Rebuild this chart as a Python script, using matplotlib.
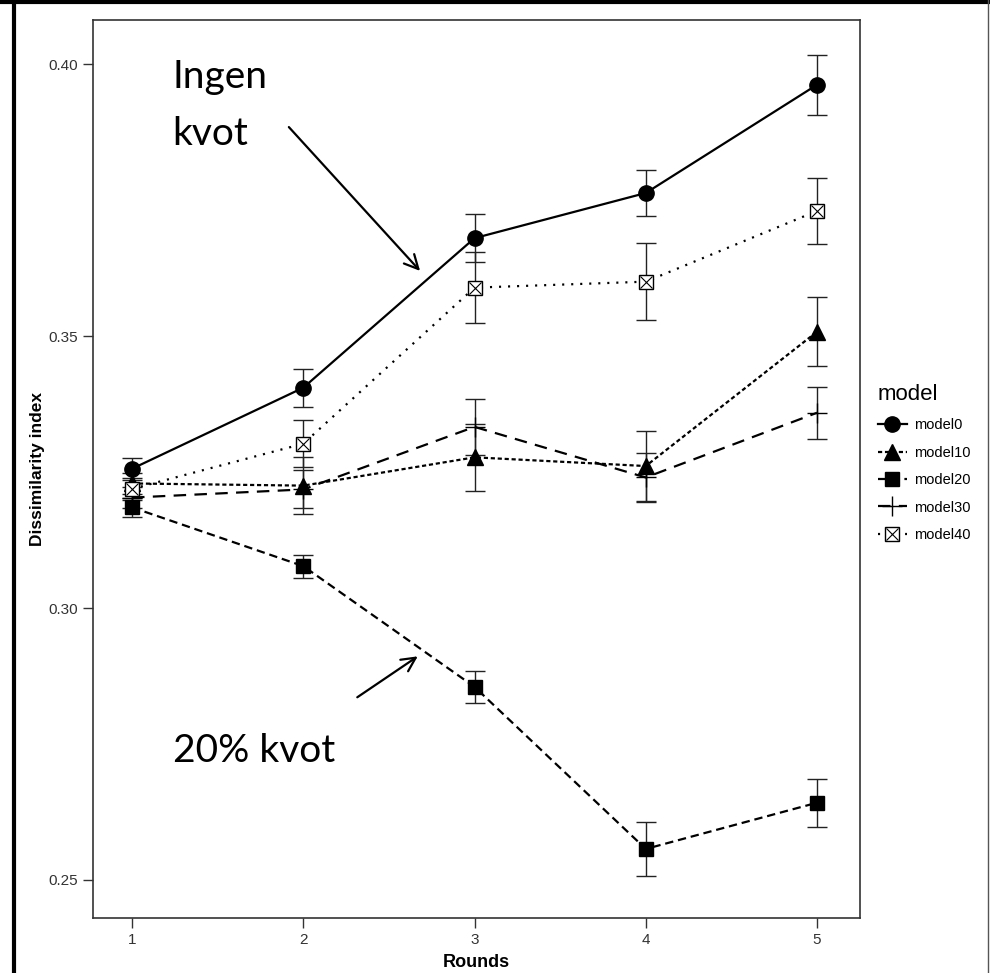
import matplotlib.pyplot as plt
from matplotlib.lines import Line2D
plt.rcParams['font.family'] = ['Liberation Sans', 'DejaVu Sans']
plt.rcParams['lines.scale_dashes'] = False

# means and error bars
rounds = [1, 2, 3, 4, 5]
model0 = [0.3256, 0.3405, 0.3680, 0.3763, 0.3962]
model0_err = [0.0020, 0.0035, 0.0044, 0.0042, 0.0055]
model10 = [0.3229, 0.3225, 0.3277, 0.3261, 0.3508]
model10_err = [0.0020, 0.0052, 0.0062, 0.0064, 0.0063]
model20 = [0.3185, 0.3077, 0.2855, 0.2557, 0.2642]
model20_err = [0.0017, 0.0021, 0.0030, 0.0049, 0.0044]
model30 = [0.3203, 0.3218, 0.3333, 0.3240, 0.3359]
model30_err = [0.0020, 0.0035, 0.0051, 0.0045, 0.0048]
model40 = [0.3219, 0.3302, 0.3589, 0.3600, 0.3730]
model40_err = [0.0020, 0.0043, 0.0065, 0.0071, 0.0060]

series = [
    ('model0', model0, model0_err, dict(ls='-', marker='o', ms=11, mfc='black')),
    ('model10', model10, model10_err, dict(dashes=(3, 2), marker='^', ms=11, mfc='black')),
    ('model20', model20, model20_err, dict(dashes=(6, 3.5), marker='s', ms=10, mfc='black')),
    ('model30', model30, model30_err, dict(dashes=(9, 6), marker='+', ms=15, mew=1.0)),
    ('model40', model40, model40_err, dict(dashes=(1.5, 5), marker='s', ms=10, mfc='white', mew=1.0)),
]

fig = plt.figure(figsize=(9.9, 9.73), dpi=100)
ax = fig.add_axes([0.0939, 0.0565, 0.7748, 0.9229])

handles = []
for name, vals, err, style in series:
    ax.errorbar(rounds, vals, yerr=err, fmt='none', ecolor='#222222', elinewidth=1.0,
                capsize=7, capthick=1.0, zorder=2)
    ln, = ax.plot(rounds, vals, color='black', lw=1.6, mec='black', zorder=3, **style)
    h = ln
    if name == 'model40':
        xm, = ax.plot(rounds, vals, ls='none', marker='x', ms=8, mew=0.8, color='black', zorder=4)
        h = (ln, xm)
    handles.append(h)

ax.set_xlim(0.772, 5.251)
ax.set_ylim(0.2430, 0.4081)
ax.set_xticks(rounds)
ax.set_yticks([0.25, 0.30, 0.35, 0.40])
ax.set_yticklabels(['0.25', '0.30', '0.35', '0.40'])
ax.tick_params(direction='out', length=7, width=1, color='#333333', labelsize=11,
               labelcolor='#333333')
for s in ax.spines.values():
    s.set_color('#333333')
    s.set_linewidth(1.2)
ax.set_xlabel('Rounds', fontsize=13, fontweight='bold', labelpad=5)
ax.set_ylabel('Dissimilarity index', fontsize=12.5, fontweight='bold', labelpad=3)

# annotations
ax.text(1.234, 0.3956, 'Ingen', family='Lato', fontsize=28, va='baseline')
ax.text(1.234, 0.3851, 'kvot', family='Lato', fontsize=28, va='baseline')
ax.annotate('', xy=(2.693, 0.3616), xytext=(1.905, 0.3888),
            arrowprops=dict(arrowstyle='->', lw=1.6, color='black', mutation_scale=25))
ax.text(1.24, 0.2717, '20% kvot', family='Lato', fontsize=28, va='baseline')
ax.annotate('', xy=(2.682, 0.2914), xytext=(2.302, 0.2833),
            arrowprops=dict(arrowstyle='->', lw=1.6, color='black', mutation_scale=25))

leg = fig.legend(handles, [s[0] for s in series], title='model', loc='upper left',
                 bbox_to_anchor=(872 / 990, 1 - 378 / 973), frameon=False,
                 fontsize=10.5, title_fontsize=16, handlelength=2.0, handletextpad=0.5,
                 labelspacing=0.92, alignment='left', borderaxespad=0)

# outer frame of the screenshot
fig.add_artist(Line2D([14 / 990, 14 / 990], [0, 1], color='black', lw=3))
fig.add_artist(Line2D([0, 1], [1 - 1.5 / 973, 1 - 1.5 / 973], color='black', lw=3))
fig.add_artist(Line2D([988 / 990, 988 / 990], [0, 1], color='#555555', lw=1))

plt.savefig('out.png', dpi=100)
